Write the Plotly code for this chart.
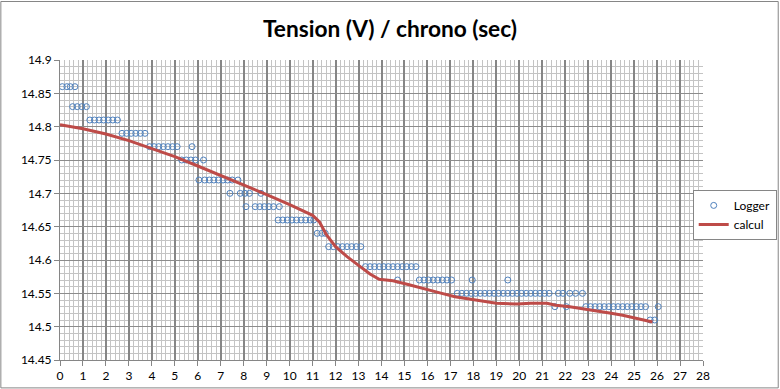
import plotly.graph_objects as go

# ---- data ----
logger_levels = [14.86, 14.83, 14.81, 14.79, 14.77, 14.75, 14.72, 14.70, 14.68,
                 14.66, 14.64, 14.62, 14.59, 14.57, 14.55, 14.53, 14.51]
logger_times = [
    [0.1, 0.3, 0.45, 0.65],
    [0.55, 0.75, 0.95, 1.15],
    [1.3, 1.5, 1.7, 1.9, 2.1, 2.3, 2.5],
    [2.7, 2.9, 3.1, 3.3, 3.5, 3.7],
    [3.9, 4.1, 4.3, 4.5, 4.7, 4.9, 5.1, 5.75],
    [5.3, 5.5, 5.7, 5.9, 6.25],
    [6.05, 6.3, 6.5, 6.7, 6.9, 7.1, 7.3, 7.5, 7.75],
    [7.4, 7.85, 8.05, 8.25, 8.75],
    [8.1, 8.5, 8.7, 8.9, 9.1, 9.3, 9.55],
    [9.5, 9.7, 9.9, 10.1, 10.3, 10.5, 10.7, 10.9, 11.05],
    [11.2, 11.4, 11.55],
    [11.7, 11.9, 12.1, 12.3, 12.5, 12.7, 12.9, 13.1],
    [13.3, 13.5, 13.7, 13.9, 14.1, 14.3, 14.5, 14.7, 14.9, 15.1, 15.3, 15.5],
    [14.7, 15.65, 15.85, 16.05, 16.25, 16.45, 16.65, 16.85, 17.05, 17.95, 19.5],
    [17.3, 17.5, 17.7, 17.9, 18.1, 18.3, 18.5, 18.7, 18.9, 19.1, 19.3, 19.5,
     19.7, 19.9, 20.1, 20.3, 20.5, 20.7, 20.9, 21.1, 21.3, 21.7, 21.9, 22.2,
     22.45, 22.75],
    [21.55, 22.05, 22.9, 23.1, 23.3, 23.5, 23.7, 23.9, 24.1, 24.3, 24.5, 24.7,
     24.9, 25.1, 25.3, 25.5, 26.05],
    [25.7, 25.9],
]

calcul_t = [0, 1, 2, 3, 4, 5, 6, 7, 8, 9, 10, 10.6, 11.0, 11.3, 11.6, 12.0,
            12.5, 13.0, 13.5, 13.9, 14.5, 15.2, 16.0, 16.5, 17.2, 18.0, 19.0,
            19.9, 20.5, 21.2, 21.6, 22.2, 23.0, 24.0, 24.5, 25.0, 25.8]
calcul_v = [14.803, 14.797, 14.789, 14.779, 14.767, 14.755, 14.741, 14.727,
            14.712, 14.698, 14.683, 14.674, 14.667, 14.657, 14.638, 14.620,
            14.605, 14.592, 14.579, 14.571, 14.569, 14.563, 14.555, 14.551,
            14.545, 14.541, 14.535, 14.534, 14.535, 14.535, 14.532, 14.530,
            14.526, 14.520, 14.517, 14.513, 14.507]

x_ticks = list(range(0, 29))
y_ticks = [14.45, 14.5, 14.55, 14.6, 14.65, 14.7, 14.75, 14.8, 14.85, 14.9]
y_ticktext = ["14.45", "14.5", "14.55", "14.6", "14.65", "14.7", "14.75",
              "14.8", "14.85", "14.9"]

title_text = "Tension (V) / chrono (sec)"

# ---- build ----
lx, ly = [], []
for lev, ts in zip(logger_levels, logger_times):
    for t in ts:
        lx.append(t)
        ly.append(lev)

FONT = "Lato, 'Open Sans', sans-serif"
fig = go.Figure()
fig.add_trace(go.Scatter(
    x=lx, y=ly, mode="markers", name="Logger",
    marker=dict(symbol="circle-open", size=6, color="#4f81bd",
                line=dict(width=1, color="#4f81bd")),
))
fig.add_trace(go.Scatter(
    x=calcul_t, y=calcul_v, mode="lines", name="calcul",
    line=dict(color="#be4b48", width=3),
))

fig.update_layout(
    width=780, height=389,
    margin=dict(l=60, r=77, t=60, b=29, autoexpand=False),
    paper_bgcolor="white", plot_bgcolor="white",
    font=dict(family=FONT, size=12, color="black"),
    title=dict(text="<b>" + title_text + "</b>", x=0.5, xanchor="center",
               y=0.925, yanchor="middle",
               font=dict(family=FONT, size=22.7, color="black")),
    legend=dict(x=0.984, y=0.567, xanchor="left", yanchor="top",
                bgcolor="white", bordercolor="#868686", borderwidth=1,
                itemwidth=30,
                font=dict(family=FONT, size=12, color="black")),
    showlegend=True,
)

fig.update_xaxes(
    range=[0, 28], tickvals=x_ticks, ticks="outside", ticklen=5,
    tickcolor="#868686", showline=True, linecolor="#868686", linewidth=1,
    showgrid=True, gridcolor="#868686", gridwidth=2,
    minor=dict(dtick=0.2, showgrid=True, gridcolor="#c4c4c4", gridwidth=1),
    zeroline=False, tickfont=dict(size=12), automargin=False,
)
fig.update_yaxes(
    range=[14.45, 14.9], tickvals=y_ticks, ticktext=y_ticktext,
    ticks="outside", ticklen=5, tickcolor="#868686",
    showline=True, linecolor="#868686", linewidth=1,
    showgrid=True, gridcolor="#8c8c8c", gridwidth=1,
    minor=dict(dtick=0.01, tick0=14.45, showgrid=True, gridcolor="#c4c4c4",
               gridwidth=1),
    zeroline=False, tickfont=dict(size=12), automargin=False,
)

# outer chart border
fig.add_shape(type="rect", xref="paper", yref="paper",
              x0=-0.092, x1=1.117, y0=-0.093, y1=1.195,
              line=dict(color="#868686", width=1), fillcolor="rgba(0,0,0,0)",
              layer="above")

fig.write_html("out.html",
               config={"displayModeBar": False},
               post_script="document.body.style.margin='0';"
                           "document.body.style.overflow='hidden';")
